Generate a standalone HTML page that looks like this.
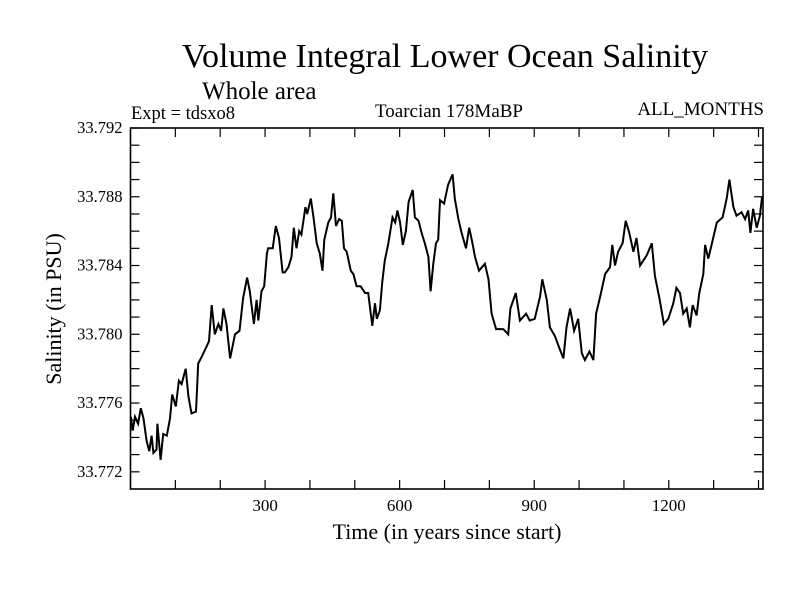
<!DOCTYPE html>
<html><head><meta charset="utf-8"><style>
body{margin:0;background:#fff;}
svg text{font-family:"Liberation Serif",serif;fill:#000;}
</style></head><body>
<svg id="chart" width="800" height="600" viewBox="0 0 800 600" xmlns="http://www.w3.org/2000/svg">
<rect width="800" height="600" fill="#fff"/>
<text x="445" y="67" font-size="34" text-anchor="middle">Volume Integral Lower Ocean Salinity</text>
<text x="202" y="99" font-size="25">Whole area</text>
<text x="131" y="119" font-size="18.5">Expt = tdsxo8</text>
<text x="449" y="117" font-size="19" text-anchor="middle">Toarcian 178MaBP</text>
<text x="764" y="115" font-size="19" text-anchor="end">ALL_MONTHS</text>
<text x="447" y="539" font-size="22" text-anchor="middle">Time (in years since start)</text>
<text transform="translate(61,309) rotate(-90)" font-size="22" text-anchor="middle">Salinity (in PSU)</text>
<g id="ticks"></g>
<g id="plot"></g>
<rect x="130.5" y="128" width="632.5" height="361" fill="none" stroke="#000" stroke-width="1.6"/>
</svg>
<script>
const years=[1,5,10,17,23,29,36,42,47,51,58,60,67,73,81,88,93,101,108,114,123,129,136,146,151,159,168,175,181,188,196,202,207,214,222,233,243,251,260,266,275,281,285,292,298,304,307,317,324,331,339,344,352,359,364,370,376,381,390,394,402,408,415,422,428,432,441,447,452,458,465,471,476,482,491,497,504,513,523,530,539,545,549,556,561,567,575,584,590,595,601,607,614,620,629,634,642,649,656,664,669,675,681,686,690,699,708,718,723,731,738,748,755,763,768,777,790,798,805,815,831,842,847,859,868,882,890,901,913,918,928,935,946,956,965,972,980,989,998,1006,1013,1023,1032,1038,1047,1058,1069,1074,1080,1087,1097,1104,1112,1121,1128,1136,1151,1162,1169,1179,1189,1199,1210,1217,1225,1232,1240,1247,1253,1262,1268,1277,1281,1288,1299,1307,1320,1329,1335,1344,1351,1362,1370,1377,1382,1388,1396,1403,1408];
const salinity=[33.7752,33.7744,33.7752,33.7748,33.7757,33.7751,33.7738,33.7732,33.7741,33.7731,33.7733,33.7748,33.7727,33.7742,33.7741,33.7751,33.7765,33.7758,33.7773,33.7771,33.7780,33.7764,33.7754,33.7755,33.7783,33.7787,33.7792,33.7796,33.7817,33.7800,33.7806,33.7802,33.7815,33.7806,33.7786,33.7800,33.7802,33.7821,33.7833,33.7825,33.7806,33.7820,33.7808,33.7825,33.7828,33.7847,33.7850,33.7850,33.7863,33.7856,33.7836,33.7836,33.7839,33.7845,33.7862,33.7850,33.7860,33.7858,33.7874,33.7870,33.7879,33.7868,33.7853,33.7847,33.7837,33.7855,33.7865,33.7868,33.7882,33.7863,33.7867,33.7866,33.7850,33.7848,33.7837,33.7835,33.7828,33.7828,33.7824,33.7824,33.7805,33.7818,33.7809,33.7814,33.7830,33.7843,33.7853,33.7868,33.7865,33.7872,33.7865,33.7852,33.7860,33.7877,33.7884,33.7868,33.7866,33.7859,33.7853,33.7845,33.7825,33.7841,33.7853,33.7855,33.7878,33.7876,33.7887,33.7893,33.7879,33.7867,33.7859,33.7850,33.7862,33.7852,33.7845,33.7837,33.7841,33.7832,33.7812,33.7803,33.7803,33.7800,33.7815,33.7824,33.7808,33.7812,33.7808,33.7809,33.7822,33.7832,33.7820,33.7804,33.7799,33.7792,33.7786,33.7804,33.7815,33.7802,33.7809,33.7789,33.7785,33.7790,33.7785,33.7812,33.7822,33.7835,33.7839,33.7852,33.7840,33.7848,33.7853,33.7866,33.7859,33.7848,33.7856,33.7840,33.7846,33.7853,33.7834,33.7821,33.7806,33.7809,33.7818,33.7827,33.7824,33.7812,33.7815,33.7804,33.7817,33.7811,33.7824,33.7835,33.7852,33.7844,33.7856,33.7865,33.7868,33.7879,33.7890,33.7874,33.7869,33.7871,33.7867,33.7872,33.7859,33.7873,33.7862,33.7869,33.7880];
const yTickLabels=["33.772","33.776","33.780","33.784","33.788","33.792"];
const xTickLabels=["300","600","900","1200"];
const X0=0,X1=1410,Y0=33.771,Y1=33.792;
const L=130.5,R=763,T=128,B=489;
function sx(v){return L+(v-X0)/(X1-X0)*(R-L);}
function sy(v){return B-(v-Y0)/(Y1-Y0)*(B-T);}
const NS="http://www.w3.org/2000/svg";
const tg=document.getElementById('ticks');
function mk(tag,attrs,parent){const e=document.createElementNS(NS,tag);for(const k in attrs)e.setAttribute(k,attrs[k]);parent.appendChild(e);return e;}
for(let i=0;i<=20;i++){const v=33.772+i*0.001;if(v>Y1+1e-9)break;const y=sy(v);
 const a=mk('line',{x1:L,x2:L+9,y1:y,y2:y,stroke:'#000','stroke-width':1.2},tg);
 
 
 const b=mk('line',{x1:R,x2:R-9,y1:y,y2:y,stroke:'#000','stroke-width':1.2},tg);
 
 }
yTickLabels.forEach(s=>{const t=mk('text',{x:L-8,y:sy(parseFloat(s))+5,'font-size':16.5,'text-anchor':'end'},tg);t.textContent=s;
 
 });
for(let yr=100;yr<X1;yr+=100){const x=sx(yr);
 const a=mk('line',{x1:x,x2:x,y1:B,y2:B-9,stroke:'#000','stroke-width':1.2},tg);
 
 
 const b=mk('line',{x1:x,x2:x,y1:T,y2:T+9,stroke:'#000','stroke-width':1.2},tg);
 
 }
xTickLabels.forEach(s=>{const t=mk('text',{x:sx(parseFloat(s)),y:B+22,'font-size':17,'text-anchor':'middle'},tg);t.textContent=s;
 
 });
const pg=document.getElementById('plot');
const d=years.map((yr,i)=>(i?'L':'M')+sx(yr).toFixed(1)+','+sy(salinity[i]).toFixed(1)).join(' ');
const p=mk('path',{d:d,fill:'none',stroke:'#000','stroke-width':2,'stroke-linejoin':'miter'},pg);


</script>
</body></html>
